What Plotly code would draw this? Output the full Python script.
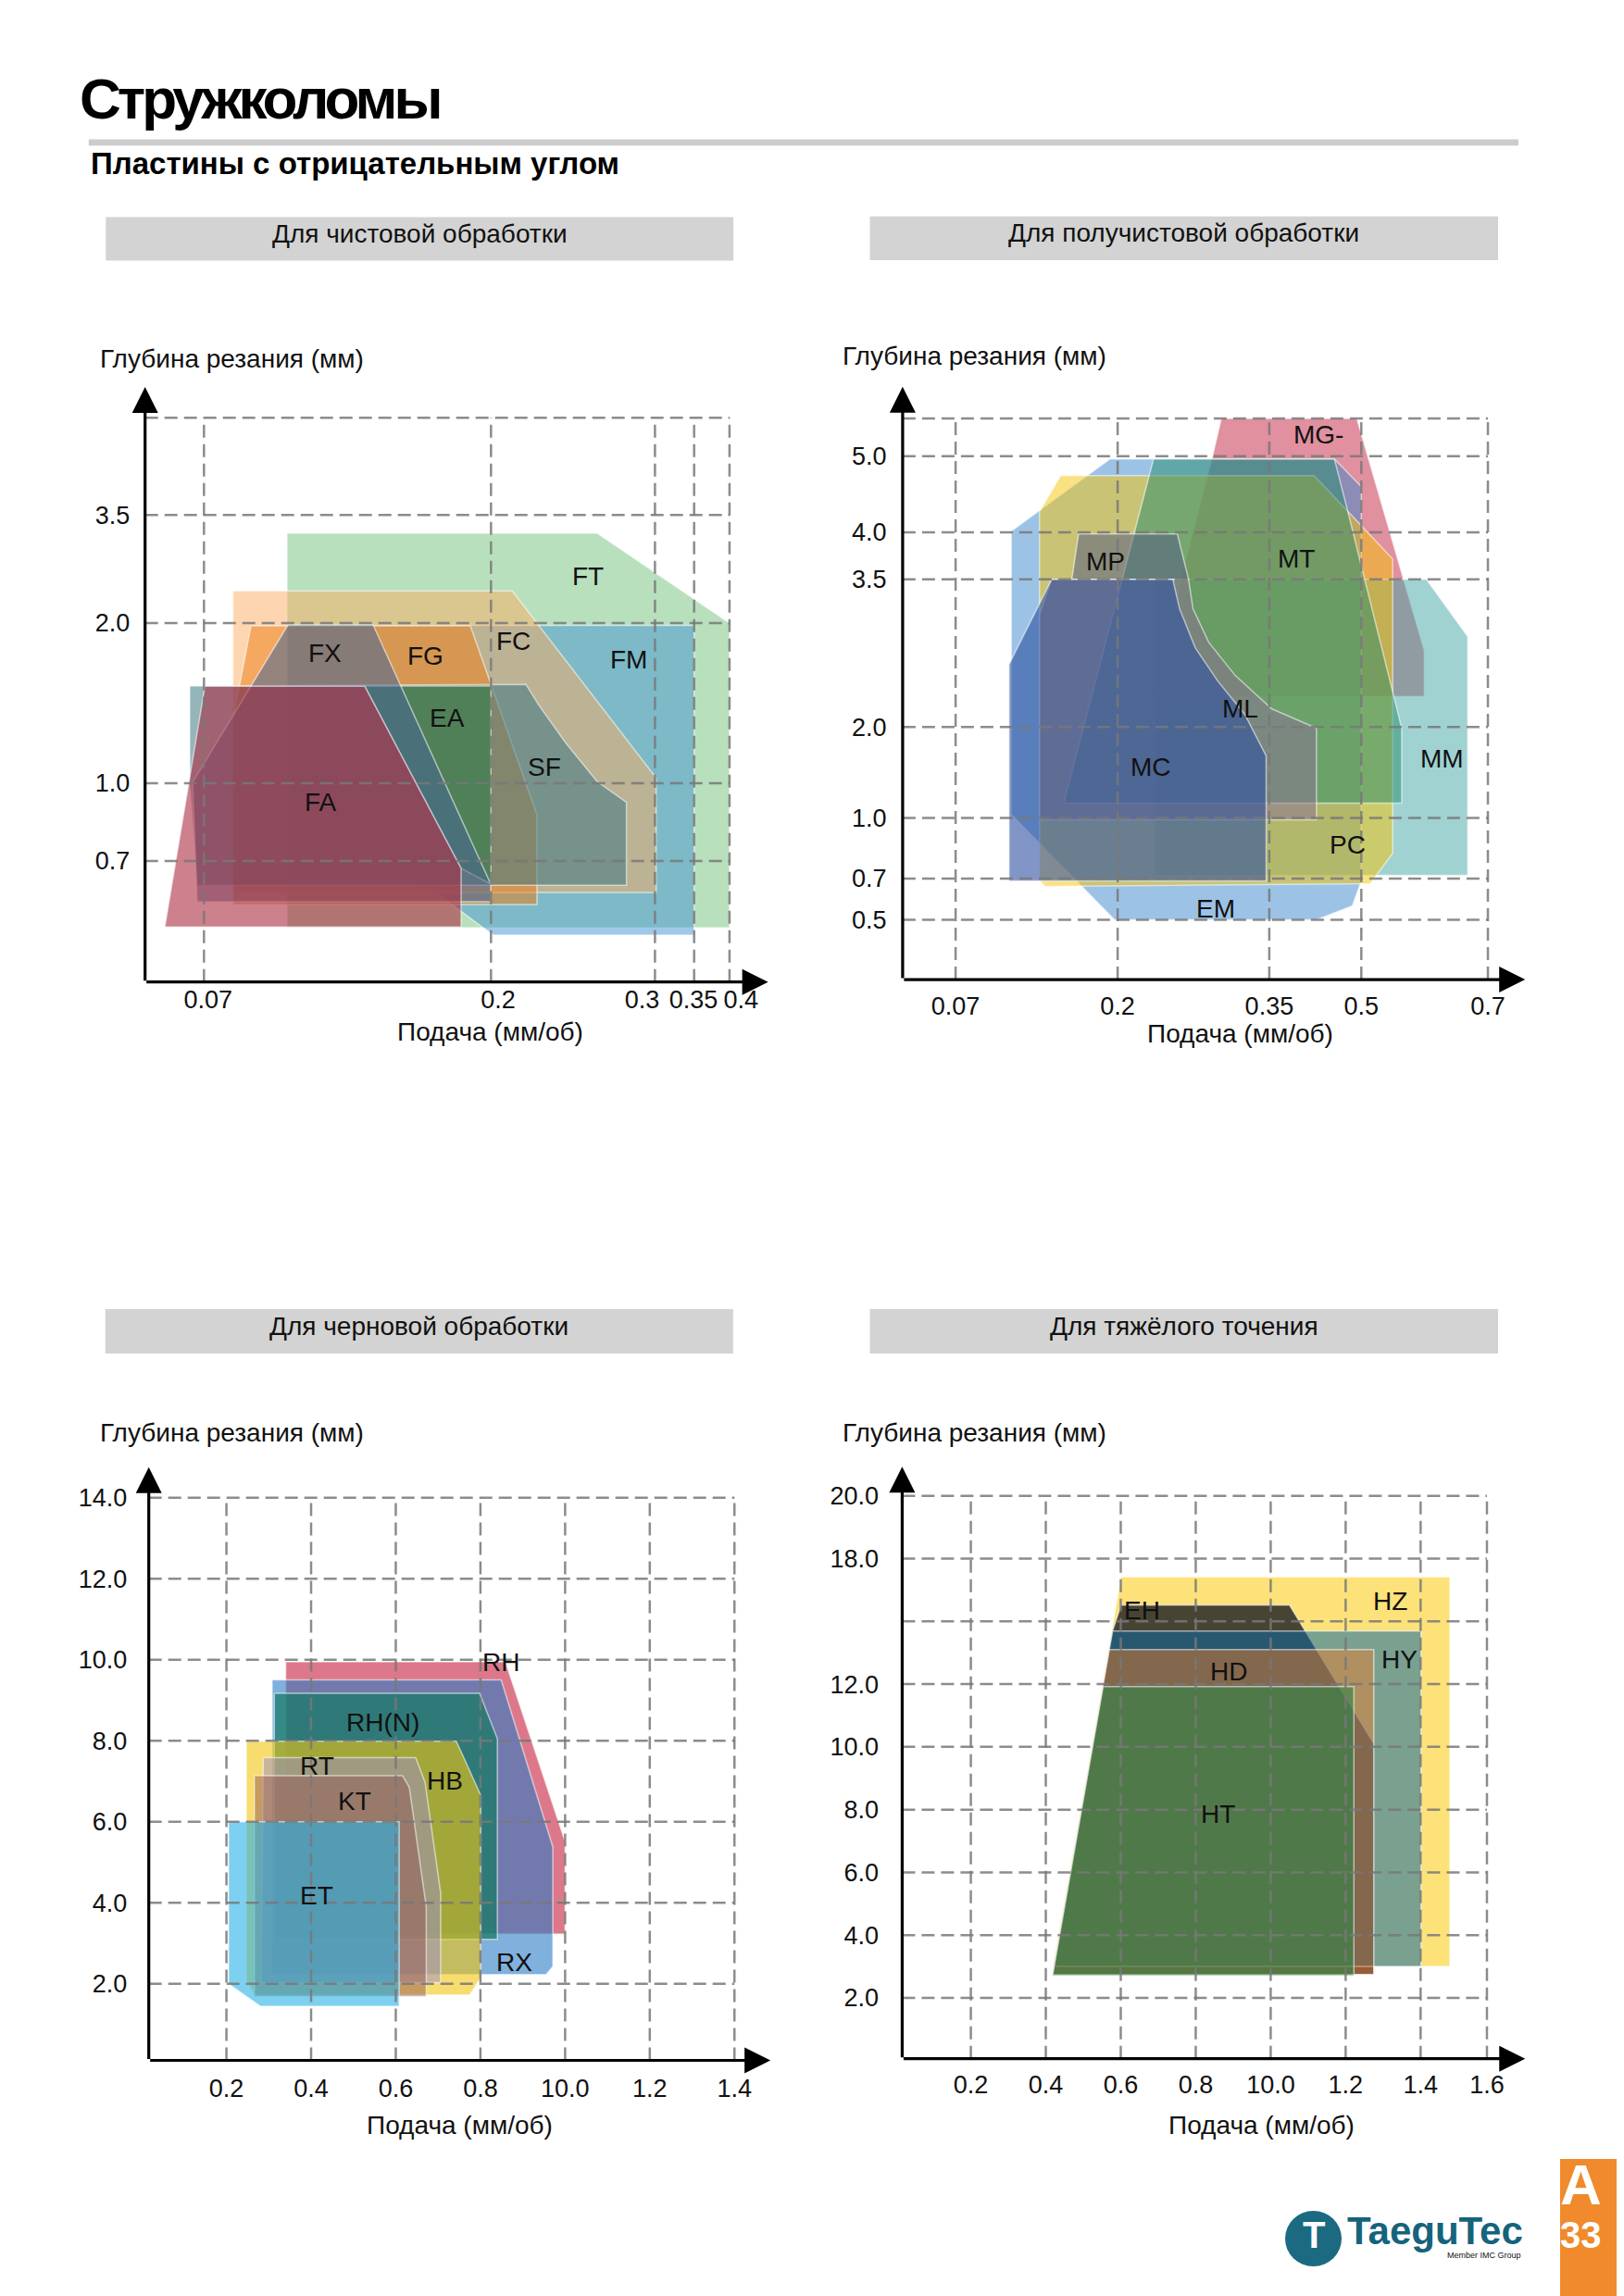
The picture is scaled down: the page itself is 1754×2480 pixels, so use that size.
import plotly.graph_objects as go

W, H = 1754, 2480
FONT = "Liberation Sans, Arial, sans-serif"

# ---------- Для чистовой обработки (axis positions as drawn, labels uneven) ----------
fin_xgrid_pos = [63.6, 373.6, 550.7, 593.0, 631.2]
fin_xtick_pos = [68.1, 381.3, 536.8, 592.3, 643.6]
fin_xtick_txt = ["0.07", "0.2", "0.3", "0.35", "0.4"]
fin_ytick_pos = [130.7, 214.7, 387.7, 504.5, 609.4]
fin_ytick_txt = ["0.7", "1.0", "2.0", "3.5", ""]
fin_names = ["FT", "FM", "FC", "FG", "SF", "EA", "FX", "FA"]
fin_x = [
    [153.3, 488.3, 631.2, 631.2, 153.3],
    [153.3, 593.0, 593.0, 376.3, 153.3],
    [94.8, 396.5, 552.0, 552.0, 94.8],
    [114.3, 351.3, 423.3, 423.3, 94.8, 94.8],
    [48.3, 411.3, 425.2, 454.7, 488.3, 519.9, 519.9, 56.3, 48.3],
    [237.3, 373.6, 373.6, 341.3],
    [154.3, 246.3, 373.3, 373.3, 56.3, 51.3],
    [21.3, 64.6, 237.3, 341.3, 341.3],
]
fin_y = [
    [484.7, 484.7, 387.7, 58.7, 58.7],
    [385.2, 385.2, 50.7, 50.7, 212.7],
    [422.4, 422.4, 220.5, 96.8, 96.8],
    [384.7, 384.7, 180.2, 83.7, 83.7, 282.7],
    [319.7, 321.5, 299.1, 257.7, 216.4, 194.0, 104.4, 104.4, 216.7],
    [319.7, 319.7, 105.7, 122.7],
    [385.7, 385.7, 105.7, 86.7, 86.7, 215.7],
    [59.4, 319.4, 319.4, 122.7, 59.4],
]
fin_lab_x = [477.8, 522.1, 397.8, 303.0, 431.5, 326.7, 194.6, 189.5]
fin_lab_y = [438.6, 348.0, 368.0, 352.5, 231.9, 285.0, 355.5, 194.2]

# ---------- Для получистовой обработки ----------
semi_xtick_pos = [57.2, 232.2, 396.0, 495.4, 632.1]
semi_xtick_txt = ["0.07", "0.2", "0.35", "0.5", "0.7"]
semi_ytick_pos = [64.7, 109.1, 174.5, 272.8, 432.3, 483.2, 565.3, 606.1]
semi_ytick_txt = ["0.5", "0.7", "1.0", "2.0", "3.5", "4.0", "5.0", ""]
semi_names = ["MG-", "MM", "EM", "PC", "MT", "ML", "MP", "MC"]
semi_x = [
    [344.2, 490.5, 563.3, 563.3, 267.6, 335.4],
    [272.4, 565.7, 610.3, 610.3, 272.4],
    [117.3, 224.0, 466.3, 495.4, 495.4, 485.7, 446.9, 228.8, 117.3],
    [170.6, 444.5, 529.3, 529.3, 505.1, 153.7, 147.8, 147.8],
    [271.0, 466.3, 480.9, 539.0, 539.0, 174.0],
    [160.9, 308.8, 313.6, 330.5, 359.2, 398.4, 446.9, 446.9, 147.8, 147.8],
    [190.0, 296.7, 308.8, 182.7],
    [160.9, 291.8, 299.1, 316.0, 340.3, 369.4, 392.6, 392.6, 114.9, 114.9],
]
semi_y = [
    [606.1, 606.1, 355.5, 305.8, 305.8, 568.3],
    [432.3, 432.3, 370.5, 112.7, 112.7],
    [484.4, 562.4, 562.4, 532.4, 106.7, 79.7, 64.7, 64.7, 178.7],
    [544.4, 544.4, 454.4, 136.7, 103.7, 100.7, 106.7, 505.4],
    [562.4, 562.4, 505.4, 271.6, 190.6, 190.6],
    [432.3, 432.3, 400.5, 364.5, 328.5, 292.6, 271.6, 172.7, 172.7, 394.5],
    [481.4, 481.4, 432.3, 432.3],
    [432.3, 432.3, 400.5, 358.5, 322.5, 286.6, 241.6, 106.7, 106.7, 340.5],
]
semi_lab_x = [449.3, 582.6, 337.9, 480.9, 425.1, 364.5, 219.1, 267.6]
semi_lab_y = [588.1, 238.6, 76.7, 145.7, 454.4, 292.6, 451.4, 229.6]

# ---------- Для черновой обработки (feed mm/rev, depth mm) ----------
rough_xtick_pos = [0.2, 0.4, 0.6, 0.8, 1.0, 1.2, 1.4]
rough_xtick_txt = ["0.2", "0.4", "0.6", "0.8", "10.0", "1.2", "1.4"]
rough_ytick_pos = [2, 4, 6, 8, 10, 12, 14]
rough_ytick_txt = ["2.0", "4.0", "6.0", "8.0", "10.0", "12.0", "14.0"]
rough_names = ["RH", "RX", "RH(N)", "HB", "RT", "KT", "ET"]
rough_x = [
    [0.34, 0.859, 1.0, 1.0, 0.34],
    [0.308, 0.849, 0.971, 0.971, 0.955, 0.308],
    [0.313, 0.798, 0.84, 0.84, 0.313],
    [0.247, 0.743, 0.801, 0.801, 0.775, 0.266, 0.247],
    [0.287, 0.647, 0.669, 0.706, 0.706, 0.282],
    [0.266, 0.616, 0.632, 0.672, 0.672, 0.266],
    [0.205, 0.608, 0.608, 0.28, 0.205],
]
rough_y = [
    [9.95, 9.95, 5.51, 3.23, 3.23],
    [9.5, 9.5, 5.38, 2.43, 2.23, 2.23],
    [9.17, 9.17, 8.05, 3.1, 3.1],
    [7.99, 7.99, 6.65, 2.16, 1.73, 1.73, 2.09],
    [7.585, 7.585, 6.98, 4.24, 2.03, 2.03],
    [7.14, 7.14, 6.85, 3.9, 1.69, 1.69],
    [6.0, 6.0, 1.45, 1.45, 2.0],
]
rough_lab_x = [0.848, 0.881, 0.57, 0.716, 0.414, 0.502, 0.414]
rough_lab_y = [9.93, 2.54, 8.455, 7.01, 7.38, 6.51, 4.17]

# ---------- Для тяжёлого точения ----------
heavy_xtick_pos = [0.2, 0.4, 0.6, 0.8, 1.0, 1.2, 1.4, 1.577]
heavy_xtick_txt = ["0.2", "0.4", "0.6", "0.8", "10.0", "1.2", "1.4", "1.6"]
heavy_ytick_pos = [2, 4, 6, 8, 10, 12, 14, 16, 18]
heavy_ytick_txt = ["2.0", "4.0", "6.0", "8.0", "10.0", "12.0", "", "18.0", "20.0"]
heavy_names = ["HZ", "EH", "HY", "HD", "HT"]
heavy_x = [
    [0.601, 1.478, 1.478, 0.418],
    [0.601, 1.05, 1.275, 1.275, 0.418, 0.578],
    [0.578, 1.401, 1.401, 0.42],
    [0.569, 1.275, 1.275, 0.418],
    [0.553, 1.222, 1.222, 0.418],
]
heavy_y = [
    [15.42, 15.42, 3.0, 3.0],
    [14.52, 14.52, 10.1, 2.745, 2.745, 13.69],
    [13.69, 13.69, 3.0, 3.0],
    [13.1, 13.1, 2.745, 2.745],
    [11.92, 11.92, 2.71, 2.71],
]
heavy_lab_x = [1.32, 0.657, 1.344, 0.889, 0.859]
heavy_lab_y = [14.64, 14.35, 12.79, 12.39, 7.85]

# fill colours of the chipbreaker areas
COLOURS = {
    "FT": "rgba(113,193,121,0.5)", "FM": "rgba(65,145,209,0.5)",
    "FC": "rgba(251,171,97,0.5)", "FG": "rgba(237,123,16,0.5)",
    "SF": "rgba(60,120,130,0.55)", "EA": "rgba(60,125,80,0.7)",
    "FX": "rgba(70,100,150,0.55)", "FA": "rgba(170,45,65,0.6)",
    "MG-": "rgba(193,33,63,0.5)", "MM": "rgba(65,165,165,0.5)",
    "EM": "rgba(57,135,205,0.5)", "PC": "rgba(245,195,5,0.5)",
    "MT": "rgba(37,140,106,0.5)", "ML": "rgba(140,110,150,0.5)",
    "MP": "rgba(80,85,132,0.5)", "MC": "rgba(45,80,160,0.6)",
    "RH": "rgba(197,30,60,0.6)", "RX": "rgba(43,123,197,0.6)",
    "RH(N)": "rgba(18,122,97,0.7)", "HB": "rgba(242,197,15,0.6)",
    "RT": "rgba(156,141,199,0.5)", "KT": "rgba(148,90,84,0.5)",
    "ET": "rgba(38,177,230,0.6)",
    "HZ": "rgba(252,207,33,0.6)", "EH": "rgba(40,40,40,0.85)",
    "HY": "rgba(15,106,162,0.55)", "HD": "rgba(242,124,37,0.45)",
    "HT": "rgba(47,133,71,0.6)",
}

# page geometry of each panel (pixels on the page); xl/yl = tick label offsets
panels = [
    dict(names=fin_names, xs=fin_x, ys=fin_y, lx=fin_lab_x, ly=fin_lab_y,
         xt=fin_xtick_pos, xtt=fin_xtick_txt, xg=fin_xgrid_pos,
         yt=fin_ytick_pos, ytt=fin_ytick_txt, xl=0, yl=10,
         box=(148.7, 835, 400, 1052.7), xr=(0, 686.3), yr=(0, 652.7), tip=(672.9, 642.7),
         head="Для чистовой обработки", bar=(106.3, 784.1, 226.6, 273.6),
         ytitle=(98, 386), xtitle=(521, 1113)),
    dict(names=semi_names, xs=semi_x, ys=semi_y, lx=semi_lab_x, ly=semi_lab_y,
         xt=semi_xtick_pos, xtt=semi_xtick_txt, xg=semi_xtick_pos,
         yt=semi_ytick_pos, ytt=semi_ytick_txt, xl=4, yl=11,
         box=(966.9, 1650, 400, 1050.1), xr=(0, 683.1), yr=(0, 650.1), tip=(672.3, 640.3),
         head="Для получистовой обработки", bar=(931.5, 1610, 225.8, 273.1),
         ytitle=(900, 383), xtitle=(1331.5, 1114)),
    dict(names=rough_names, xs=rough_x, ys=rough_y, lx=rough_lab_x, ly=rough_lab_y,
         xt=rough_xtick_pos, xtt=rough_xtick_txt, xg=rough_xtick_pos,
         yt=rough_ytick_pos, ytt=rough_ytick_txt, xl=6, yl=17,
         box=(152.7, 835, 1565, 2217.5), xr=(0.0166, 1.5088), yr=(0.112, 15.02), tip=(1.485, 14.75),
         head="Для черновой обработки", bar=(105.7, 783.8, 1406, 1454),
         ytitle=(98, 1545.5), xtitle=(488.4, 2293)),
    dict(names=heavy_names, xs=heavy_x, ys=heavy_y, lx=heavy_lab_x, ly=heavy_lab_y,
         xt=heavy_xtick_pos, xtt=heavy_xtick_txt, xg=heavy_xtick_pos,
         yt=heavy_ytick_pos, ytt=heavy_ytick_txt, xl=4, yl=19,
         box=(966.4, 1650, 1565, 2215.7), xr=(0.0168, 1.7055), yr=(0.061, 19.26), tip=(1.679, 18.93),
         head="Для тяжёлого точения", bar=(931.5, 1610, 1406, 1454),
         ytitle=(900, 1545.5), xtitle=(1354.7, 2293)),
]


def px(x):
    return x / W


def py(y):
    return 1 - y / H


def page_text(x, y, text, size, color="#111", anchor="center", family=FONT):
    # y is the visual centre of the capitals; the text box sits a little lower
    return dict(x=px(x), y=py(y - 6), xref="paper", yref="paper", text=text,
                xanchor=anchor, yanchor="middle", align=anchor if anchor != "center" else "center",
                showarrow=False, font=dict(family=family, size=size, color=color))


fig = go.Figure()
shapes = []
annotations = []
layout_axes = {}

for i, p in enumerate(panels):
    sfx = "" if i == 0 else str(i + 1)
    xa, ya = "x" + sfx, "y" + sfx

    for name, xs, ys in zip(p["names"], p["xs"], p["ys"]):
        fig.add_trace(go.Scatter(
            x=xs + xs[:1], y=ys + ys[:1], xaxis=xa, yaxis=ya,
            mode="lines", fill="toself", fillcolor=COLOURS[name],
            line=dict(color="rgba(255,255,255,0.55)", width=1.5),
            hoverinfo="skip", showlegend=False,
        ))

    x0b, x1b, y0b, y1b = p["box"]
    layout_axes["xaxis" + sfx] = dict(
        domain=[px(x0b), px(x1b)], range=list(p["xr"]), anchor=ya,
        tickvals=p["xt"], ticktext=p["xtt"], tickangle=0,
        ticks="outside" if p["xl"] else "", ticklen=max(p["xl"], 1),
        tickcolor="rgba(0,0,0,0)", showgrid=False, zeroline=False, showline=False,
        tickfont=dict(family=FONT, size=27, color="#111"), fixedrange=True,
    )
    layout_axes["yaxis" + sfx] = dict(
        domain=[py(y1b), py(y0b)], range=list(p["yr"]), anchor=xa,
        tickvals=p["yt"], ticktext=p["ytt"], ticks="outside", ticklen=p["yl"],
        tickcolor="rgba(0,0,0,0)", showgrid=False, zeroline=False, showline=False,
        tickfont=dict(family=FONT, size=27, color="#111"), fixedrange=True,
    )

    # dashed grid, stopping at the last grid value like in the catalogue
    gx_end, gy_end = max(p["xg"]), max(p["yt"])
    grid_line = dict(color="rgba(120,120,120,0.85)", width=2.5, dash="14px,7px")
    for v in p["xg"]:
        shapes.append(dict(type="line", xref=xa, yref=ya, x0=v, x1=v,
                           y0=p["yr"][0], y1=gy_end, line=grid_line, layer="above"))
    for v in p["yt"]:
        shapes.append(dict(type="line", xref=xa, yref=ya, x0=p["xr"][0], x1=gx_end,
                           y0=v, y1=v, line=grid_line, layer="above"))

    # axes with arrow heads
    for tx, ty in [(p["tip"][0], p["yr"][0]), (p["xr"][0], p["tip"][1])]:
        annotations.append(dict(
            x=tx, y=ty, ax=p["xr"][0], ay=p["yr"][0], xref=xa, yref=ya,
            axref=xa, ayref=ya, text="", showarrow=True, arrowhead=2,
            arrowsize=1.75, arrowwidth=3.2, arrowcolor="black", standoff=0,
        ))

    for name, lx, ly in zip(p["names"], p["lx"], p["ly"]):
        annotations.append(dict(x=lx, y=ly, xref=xa, yref=ya, text=name, showarrow=False,
                                xanchor="center", yanchor="middle",
                                font=dict(family=FONT, size=28, color="#111")))

    # header bar
    bx0, bx1, by0, by1 = p["bar"]
    shapes.append(dict(type="rect", xref="paper", yref="paper", x0=px(bx0), x1=px(bx1),
                       y0=py(by1), y1=py(by0), fillcolor="#d3d3d3", line=dict(width=0),
                       layer="below"))
    annotations.append(page_text((bx0 + bx1) / 2, (by0 + by1) / 2, p["head"], 28))
    annotations.append(page_text(p["ytitle"][0], p["ytitle"][1], "Глубина резания (мм)", 28,
                                 anchor="left"))
    annotations.append(page_text(p["xtitle"][0], p["xtitle"][1], "Подача (мм/об)", 28))

# page title block
annotations.append(page_text(
    76, 104, '<b><span style="letter-spacing:-4px">Стружколомы</span></b>', 62,
    color="black", anchor="left"))
shapes.append(dict(type="rect", xref="paper", yref="paper", x0=px(87.8), x1=px(1632),
                   y0=py(149.3), y1=py(142.4), fillcolor="#cccccc", line=dict(width=0),
                   layer="below"))
annotations.append(page_text(88, 175, "<b>Пластины с отрицательным углом</b>", 33,
                             color="black", anchor="left"))

# footer: logo and page tab
shapes.append(dict(type="circle", xref="paper", yref="paper", x0=px(1380), x1=px(1441),
                   y0=py(2440), y1=py(2380), fillcolor="#1b6a82", line=dict(width=0)))
annotations.append(page_text(1410.5, 2412, "<b>T</b>", 40, color="white"))
annotations.append(page_text(1445, 2407, "<b>TaeguTec</b>", 42, color="#16637c", anchor="left"))
annotations.append(page_text(1637, 2434, "Member IMC Group", 9, anchor="right"))
shapes.append(dict(type="rect", xref="paper", yref="paper", x0=px(1677), x1=px(1754),
                   y0=py(2480), y1=py(2324), fillcolor="#f08a2c", line=dict(width=0)))
annotations.append(page_text(1699, 2357, "<b>A</b>", 62, color="white"))
annotations.append(page_text(1699, 2412, "<b>33</b>", 40, color="white"))

fig.update_layout(
    width=W, height=H, margin=dict(l=0, r=0, t=0, b=0),
    paper_bgcolor="white", plot_bgcolor="rgba(0,0,0,0)",
    shapes=shapes, annotations=annotations, showlegend=False,
    **layout_axes,
)

fig.write_html("out.html")
